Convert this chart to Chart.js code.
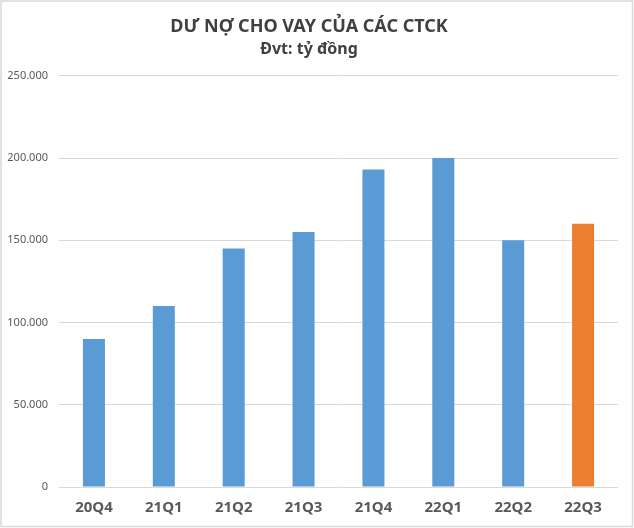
<!DOCTYPE html>
<html>
<head>
<meta charset="utf-8">
<script src="https://cdn.jsdelivr.net/npm/chart.js@4.4.1/dist/chart.umd.min.js"></script>
<style>
    html, body { margin: 0; padding: 0; background: #fff; }
    #wrap { width: 634px; height: 528px; }
</style>
</head>
<body>
<div id="wrap"><canvas id="c" width="634" height="528"></canvas></div>
<script>
/* Dư nợ cho vay của các CTCK – single bar series, last quarter highlighted */
const quarters = ['20Q4', '21Q1', '21Q2', '21Q3', '21Q4', '22Q1', '22Q2', '22Q3'];
const loanValues = [90000, 110000, 145000, 155000, 193000, 200000, 150000, 160000];
const barColors = ['#5B9BD5', '#5B9BD5', '#5B9BD5', '#5B9BD5', '#5B9BD5', '#5B9BD5', '#5B9BD5', '#ED7D31'];
const yTicks = [0, 50000, 100000, 150000, 200000, 250000];

const FONT = '"Noto Sans", "Open Sans", sans-serif';
const _fmt = v => v === 0 ? '0' : String(v).replace(/\B(?=(\d{3})+(?!\d))/g, '.');

// white background + light frame like the Excel chart area
const framePlugin = {
    id: 'frame',
    beforeDraw(chart) {
        const { ctx, width, height } = chart;
        ctx.save();
        ctx.fillStyle = '#fff';
        ctx.fillRect(0, 0, width, height);
        ctx.strokeStyle = '#d9d9d9';
        ctx.lineWidth = 1.5;
        ctx.strokeRect(1, 1, width - 2.5, height - 2.5);
        ctx.restore();
    }
};

new Chart(document.getElementById('c'), {
    type: 'bar',
    data: {
        labels: quarters,
        datasets: [{
            data: loanValues,
            backgroundColor: barColors,
            borderWidth: 0,
            barPercentage: 1,
            categoryPercentage: 0.315,
        }]
    },
    options: {
        responsive: false,
        animation: false,
        devicePixelRatio: 1,
        layout: { padding: { top: 16, right: 16, bottom: 0, left: 0 } },
        plugins: {
            legend: { display: false },
            tooltip: { enabled: false },
            title: {
                display: true,
                text: 'DƯ NỢ CHO VAY CỦA CÁC CTCK',
                color: '#404040',
                font: { family: FONT, size: 18, weight: 'bold' },
                padding: { top: 0, bottom: 2 },
            },
            subtitle: {
                display: true,
                text: 'Đvt: tỷ đồng',
                color: '#404040',
                font: { family: FONT, size: 16, weight: 'bold' },
                padding: { top: 0, bottom: 17 },
            },
        },
        scales: {
            x: {
                grid: { display: false, drawTicks: false },
                border: { display: false },
                ticks: { color: '#595959', font: { family: FONT, size: 15, weight: 'bold' }, padding: 12 },
                afterFit: s => { s.height = 41; },
            },
            y: {
                min: 0,
                max: 250000,
                afterBuildTicks: s => { s.ticks = yTicks.map(v => ({ value: v })); },
                grid: { color: '#d9d9d9', lineWidth: 1, drawTicks: false },
                border: { display: false },
                ticks: { color: '#595959', font: { family: FONT, size: 11 }, padding: 11, callback: v => _fmt(v) },
                afterFit: s => { s.width = 59; },
            }
        }
    },
    plugins: [framePlugin]
});
</script>
</body>
</html>
